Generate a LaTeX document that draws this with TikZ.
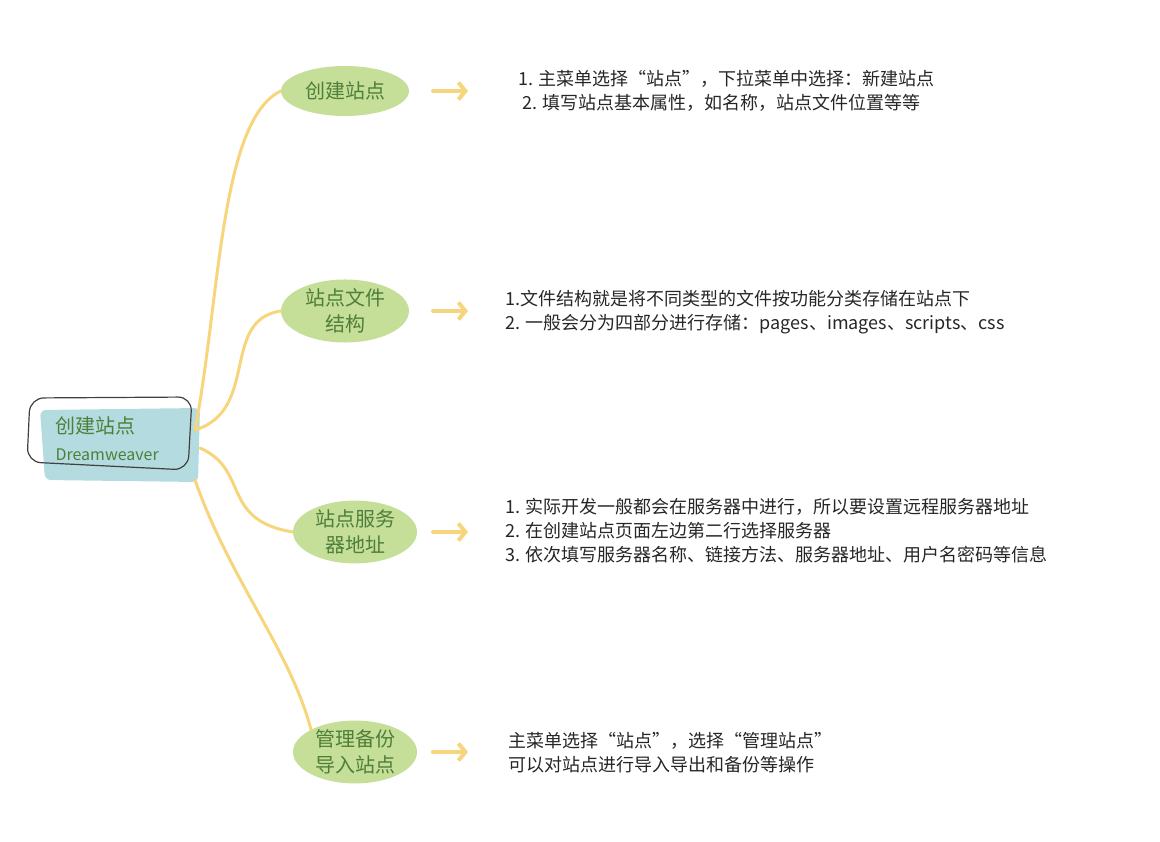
\documentclass[tikz,border=0pt]{standalone}
\usepackage{fontspec}
\setmainfont{Noto Sans CJK SC}
\usetikzlibrary{shapes.geometric,arrows.meta}
\definecolor{leaf}{HTML}{C5DE98}
\definecolor{branch}{HTML}{F6D57C}
\definecolor{teal}{HTML}{B4DCE0}
\definecolor{ink}{HTML}{4E7F3A}
\tikzset{
  topic/.style={ellipse,fill=leaf,text=ink,font=\fontsize{20}{26}\selectfont,align=center,minimum width=128pt,minimum height=50pt,inner sep=0pt},
  twig/.style={draw=branch,line width=3pt,line cap=round},
  pointer/.style={draw=branch,line width=4pt,line cap=round,-{Straight Barb[length=7pt,width=17pt]}},
  note/.style={anchor=west,align=left,font=\fontsize{18}{24}\selectfont,text=black!85}
}
\begin{document}
\begin{tikzpicture}[x=1pt,y=-1pt]
\useasboundingbox (0,0) rectangle (1160,842);
% root
\fill[teal,rounded corners=6pt] (40,410) -- (200,408) -- (198,482) -- (45,480) -- cycle;
\draw[black!75,line width=1.2pt,rounded corners=14pt] (30,398) -- (192,397) -- (188,470) -- (27,462) -- cycle;
\node[text=ink,font=\fontsize{20}{24}\selectfont,anchor=west] (root) at (52,426) {创建站点};
\node[text=ink,font=\fontsize{16}{20}\selectfont,anchor=west] (rootsub) at (52,455) {Dreamweaver};
\coordinate (hub) at (195,430);
% topics
\node[topic] (t1) at (345,91) {创建站点};
\node[topic] (t2) at (345,311) {站点文件\\结构};
\node[topic,minimum width=124pt] (t3) at (355,532) {站点服务\\器地址};
\node[topic,minimum width=124pt] (t4) at (355,752) {管理备份\\导入站点};
% branches
\draw[twig] (hub) .. controls (220,300) and (220,120) .. (t1.west);
\draw[twig] (hub) .. controls (260,410) and (220,320) .. (t2.west);
\draw[twig] (200,448) .. controls (250,470) and (220,520) .. (t3.west);
\draw[twig] (195,480) .. controls (230,580) and (290,650) .. (t4.north west);
% arrows
\foreach \y in {91,311,532,752}
  \draw[pointer] (433,\y) -- (468,\y);
% notes
\node[note] (n1) at (515,91) {1. 主菜单选择“站点”，下拉菜单中选择：新建站点\\\ 2. 填写站点基本属性，如名称，站点文件位置等等};
\node[note] (n2) at (502,312) {1.文件结构就是将不同类型的文件按功能分类存储在站点下\\2. 一般会分为四部分进行存储：pages、images、scripts、css};
\node[note] (n3) at (502,531) {1. 实际开发一般都会在服务器中进行，所以要设置远程服务器地址\\2. 在创建站点页面左边第二行选择服务器\\3. 依次填写服务器名称、链接方法、服务器地址、用户名密码等信息};
\node[note] (n4) at (505,753) {主菜单选择“站点”，选择“管理站点”\\可以对站点进行导入导出和备份等操作};
\end{tikzpicture}
\end{document}
